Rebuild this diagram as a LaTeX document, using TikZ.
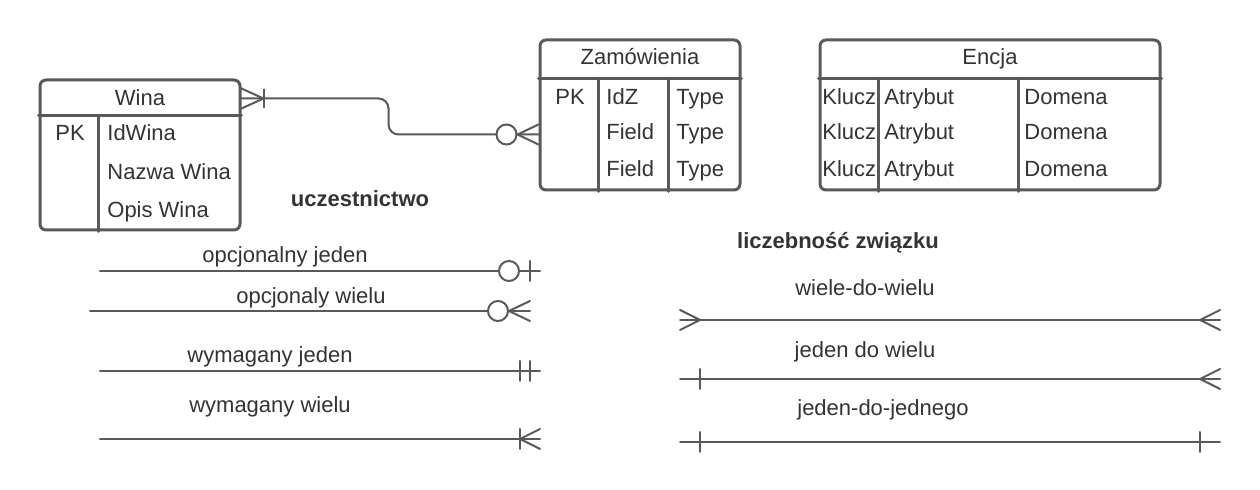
\documentclass[tikz,border=0pt]{standalone}
\usepackage{fontspec}
\setmainfont{Liberation Sans}
\usetikzlibrary{calc}

\definecolor{linegray}{HTML}{595959}
\definecolor{textgray}{HTML}{333333}

\begin{document}
\begin{tikzpicture}[x=0.5pt, y=-0.5pt, line cap=round, line join=round]

% --- Global TikZ Styles ---
\tikzset{
    entity/.style={
        draw=linegray,
        line width=1.5pt,
        rounded corners=3pt,
        inner sep=0pt
    },
    divider/.style={
        draw=linegray,
        line width=1.5pt
    },
    relation/.style={
        draw=linegray,
        line width=1pt
    },
    txt/.style={
        text=textgray,
        inner sep=0pt,
        text height=8pt,
        text depth=0.6pt,
        font=\fontsize{11}{13}\selectfont
    },
    heading/.style={
        txt,
        font=\fontsize{11}{13}\selectfont\bfseries
    },
    optcircle/.style={
        circle,
        draw=linegray,
        line width=1pt,
        fill=white,
        minimum size=10pt,
        inner sep=0pt
    }
}

\useasboundingbox (0,0) rectangle (1260,490);

% =========================================================================
% --- Encje ---
% =========================================================================

% --- Wina ---
\node[entity, minimum width=100pt, minimum height=75pt] (wina) at (140,155) {};
\draw[divider] ($(wina.north west)+(0,37)$) -- ($(wina.north east)+(0,37)$);
\draw[divider] ($(wina.north west)+(60,37)$) -- ($(wina.south west)+(60,0)$);

\node[txt] (winaTitle) at (140,98) {Wina};
\node[txt] (winaPK) at (70,133) {PK};
\node[txt, anchor=west] (winaId) at (107,133) {IdWina};
\node[txt, anchor=west] (winaNazwa) at (107,172) {Nazwa Wina};
\node[txt, anchor=west] (winaOpis) at (107,210) {Opis Wina};

% --- Zamowienia ---
\node[entity, minimum width=100pt, minimum height=75pt] (zam) at (640,115) {};
\draw[divider] ($(zam.north west)+(0,40)$) -- ($(zam.north east)+(0,40)$);
\draw[divider] ($(zam.north west)+(60,40)$) -- ($(zam.south west)+(60,0)$);
\draw[divider] ($(zam.north west)+(130,40)$) -- ($(zam.south west)+(130,0)$);

\node[txt] (zamTitle) at (640,57) {Zamówienia};
\node[txt] (zamPK) at (570,97) {PK};
\foreach \name/\y in {IdZ/97, Field/132, Field/169} {
    \node[txt, anchor=west] at (606,\y) {\name};
    \node[txt, anchor=west] at (676,\y) {Type};
}

% --- Encja ---
\node[entity, minimum width=170pt, minimum height=75pt] (encja) at (990,115) {};
\draw[divider] ($(encja.north west)+(0,40)$) -- ($(encja.north east)+(0,40)$);
\draw[divider] ($(encja.north west)+(60,40)$) -- ($(encja.south west)+(60,0)$);
\draw[divider] ($(encja.north west)+(200,40)$) -- ($(encja.south west)+(200,0)$);

\node[txt] (encjaTitle) at (990,57) {Encja};
\foreach \y in {97, 132, 169} {
    \node[txt, anchor=west] at (822,\y) {Klucz};
    \node[txt, anchor=west] at (884,\y) {Atrybut};
    \node[txt, anchor=west] at (1024,\y) {Domena};
}

% --- Zwiazek Wina -- Zamowienia ---
\coordinate (winaEnd) at ($(wina.north east)+(0,20)$);
\coordinate (zamEnd) at ($(zam.north west)+(0,96)$);

\draw[relation, rounded corners=5pt]
    (winaEnd) -- ++(147,0) |- (zamEnd);

% jeden lub wiele przy Wina
\draw[relation] ($(winaEnd)+(0,-10)$) -- ($(winaEnd)+(22,0)$) -- ($(winaEnd)+(0,10)$);
\draw[relation] ($(winaEnd)+(22,-9)$) -- ($(winaEnd)+(22,9)$);

% zero lub wiele przy Zamowienia
\node[optcircle] (zamCircle) at ($(zamEnd)+(-32,0)$) {};
\draw[relation] ($(zamEnd)+(0,-10)$) -- (zamCircle.east) -- ($(zamEnd)+(0,10)$);

% =========================================================================
% --- Legenda: uczestnictwo ---
% =========================================================================

\node[heading] (uczestnictwo) at (360,199) {uczestnictwo};

% --- opcjonalny jeden ---
\coordinate (ojA) at (100,271);
\coordinate (ojB) at (540,271);
\draw[relation] (ojA) -- (ojB);
\node[optcircle] (ojCircle) at ($(ojB)+(-31,0)$) {};
\draw[relation] ($(ojB)+(-10,-10)$) -- ($(ojB)+(-10,10)$);
\node[txt] (ojLabel) at (285,255) {opcjonalny jeden};

% --- opcjonaly wielu ---
\coordinate (owA) at (90,311);
\coordinate (owB) at (530,311);
\draw[relation] (owA) -- (owB);
\node[optcircle] (owCircle) at ($(owB)+(-32,0)$) {};
\draw[relation] ($(owB)+(0,-10)$) -- (owCircle.east) -- ($(owB)+(0,10)$);
\node[txt] (owLabel) at (311,296) {opcjonaly wielu};

% --- wymagany jeden ---
\coordinate (wjA) at (100,371);
\coordinate (wjB) at (540,371);
\draw[relation] (wjA) -- (wjB);
\draw[relation] ($(wjB)+(-20,-10)$) -- ($(wjB)+(-20,10)$);
\draw[relation] ($(wjB)+(-10,-10)$) -- ($(wjB)+(-10,10)$);
\node[txt] (wjLabel) at (270,355) {wymagany jeden};

% --- wymagany wielu ---
\coordinate (wwA) at (100,439);
\coordinate (wwB) at (540,439);
\draw[relation] (wwA) -- (wwB);
\draw[relation] ($(wwB)+(-20,-10)$) -- ($(wwB)+(-20,10)$);
\draw[relation] ($(wwB)+(0,-10)$) -- ($(wwB)+(-20,0)$) -- ($(wwB)+(0,10)$);
\node[txt] (wwLabel) at (270,405) {wymagany wielu};

% =========================================================================
% --- Legenda: licznosc zwiazku ---
% =========================================================================

\node[heading] (licznosc) at (838,241) {liczebność związku};

% --- wiele-do-wielu ---
\coordinate (mmA) at (680,320);
\coordinate (mmB) at (1220,320);
\draw[relation] (mmA) -- (mmB);
\draw[relation] ($(mmA)+(0,-10)$) -- ($(mmA)+(20,0)$) -- ($(mmA)+(0,10)$);
\draw[relation] ($(mmB)+(0,-10)$) -- ($(mmB)+(-20,0)$) -- ($(mmB)+(0,10)$);
\node[txt] (mmLabel) at (865,288) {wiele-do-wielu};

% --- jeden do wielu ---
\coordinate (omA) at (680,379);
\coordinate (omB) at (1220,379);
\draw[relation] (omA) -- (omB);
\draw[relation] ($(omA)+(20,-10)$) -- ($(omA)+(20,10)$);
\draw[relation] ($(omB)+(0,-10)$) -- ($(omB)+(-20,0)$) -- ($(omB)+(0,10)$);
\node[txt] (omLabel) at (865,350) {jeden do wielu};

% --- jeden-do-jednego ---
\coordinate (ooA) at (680,442);
\coordinate (ooB) at (1220,442);
\draw[relation] (ooA) -- (ooB);
\draw[relation] ($(ooA)+(20,-10)$) -- ($(ooA)+(20,10)$);
\draw[relation] ($(ooB)+(-20,-10)$) -- ($(ooB)+(-20,10)$);
\node[txt] (ooLabel) at (883,408) {jeden-do-jednego};

\end{tikzpicture}
\end{document}
